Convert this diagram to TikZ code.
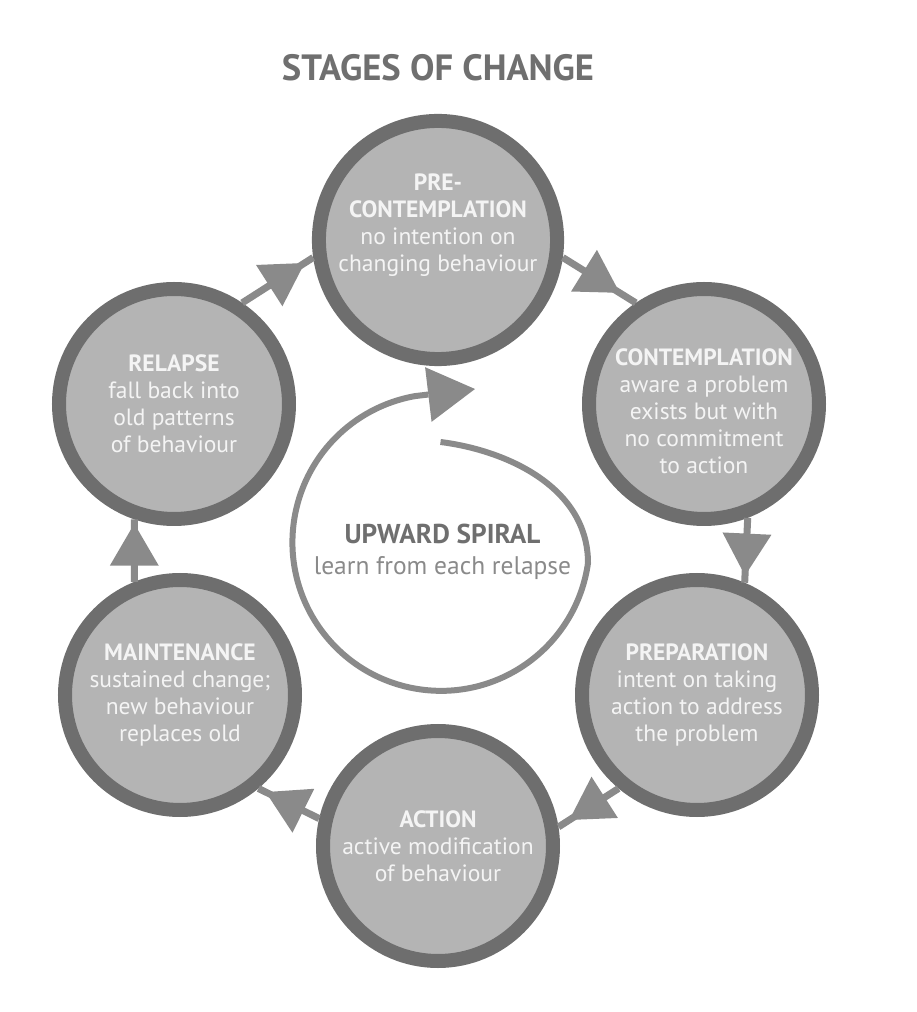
\documentclass[tikz,border=0pt]{standalone}
\usepackage{fontspec}
\setmainfont{PT Sans}
\usepackage{tikz}
\usetikzlibrary{calc, decorations.markings, arrows.meta}

\definecolor{ringgray}{HTML}{6E6E6E}
\definecolor{fillgray}{HTML}{B4B4B4}
\definecolor{linkgray}{HTML}{8A8A8A}
\definecolor{titlegray}{HTML}{6F6F6F}
\definecolor{softwhite}{HTML}{F4F4F4}

\tikzset{
	stage/.style={circle, draw=ringgray, fill=fillgray, line width=0.28cm,
		minimum size=4.6cm, inner sep=0pt, align=center, text=softwhite,
		font=\fontsize{13.4}{15.4}\selectfont},
	link/.style={color=linkgray, line width=0.14cm, postaction={decorate},
		decoration={markings, mark=at position #1 with
			{\arrow{Triangle[length=0.84cm, width=0.98cm, line width=0pt]}}}},
	spiral/.style={draw=linkgray, line width=0.12cm,
		-{Triangle[length=0.94cm, width=1.1cm, line width=0pt]}}
}

\begin{document}
\begin{tikzpicture}
	\useasboundingbox (-8.76,-9.38) rectangle (9.56,10.86);
	
	%title
	\node[text=titlegray, font=\fontsize{20.8}{24}\selectfont\bfseries] (title) at (0,9.5) {STAGES OF CHANGE};
	
	%circles
	\node[stage] (pre)     at (0,6.06)      {\textbf{PRE-}\\\textbf{CONTEMPLATION}\\no intention on\\changing behaviour\\[4pt]};
	\node[stage] (cont)    at (5.32,2.78)   {\\[2pt]\textbf{CONTEMPLATION}\\aware a problem\\exists but with\\no commitment\\to action};
	\node[stage] (prep)    at (5.18,-3.04)  {\textbf{PREPARATION}\\intent on taking\\action to address\\the problem};
	\node[stage] (action)  at (0,-6.06)     {\textbf{ACTION}\\active modification\\of behaviour};
	\node[stage] (maint)   at (-5.16,-3.04) {\textbf{MAINTENANCE}\\sustained change;\\new behaviour\\replaces old};
	\node[stage] (relapse) at (-5.28,2.78)  {\textbf{RELAPSE}\\fall back into\\old patterns\\of behaviour};
	
	%arrows
	\draw[link=0.78] (pre.-8)       -- (cont.124);
	\draw[link=0.89] (cont.-69)     -- (prep.67);
	\draw[link=0.82] (prep.-130)    -- (action.9);
	\draw[link=0.88] (action.167)   -- (maint.-50);
	\draw[link=0.93] (maint.112)    -- (relapse.-109);
	\draw[link=0.88] (relapse.56)   -- (pre.188);
	
	%spiral
	\draw[spiral] (0.05,2.02) .. controls (1.4,1.85) and (3.0,1.1) .. (3.0,-0.4)
		arc[start angle=-8, end angle=-260, radius=2.97] -- (0.74,3.08);
	\node[align=center, font=\fontsize{14.5}{18}\selectfont] (upward) at (0.09,-0.18)
		{\textcolor{titlegray}{\fontsize{15.5}{18}\selectfont\bfseries UPWARD SPIRAL}\\\textcolor{linkgray}{learn from each relapse}};
\end{tikzpicture}
\end{document}
